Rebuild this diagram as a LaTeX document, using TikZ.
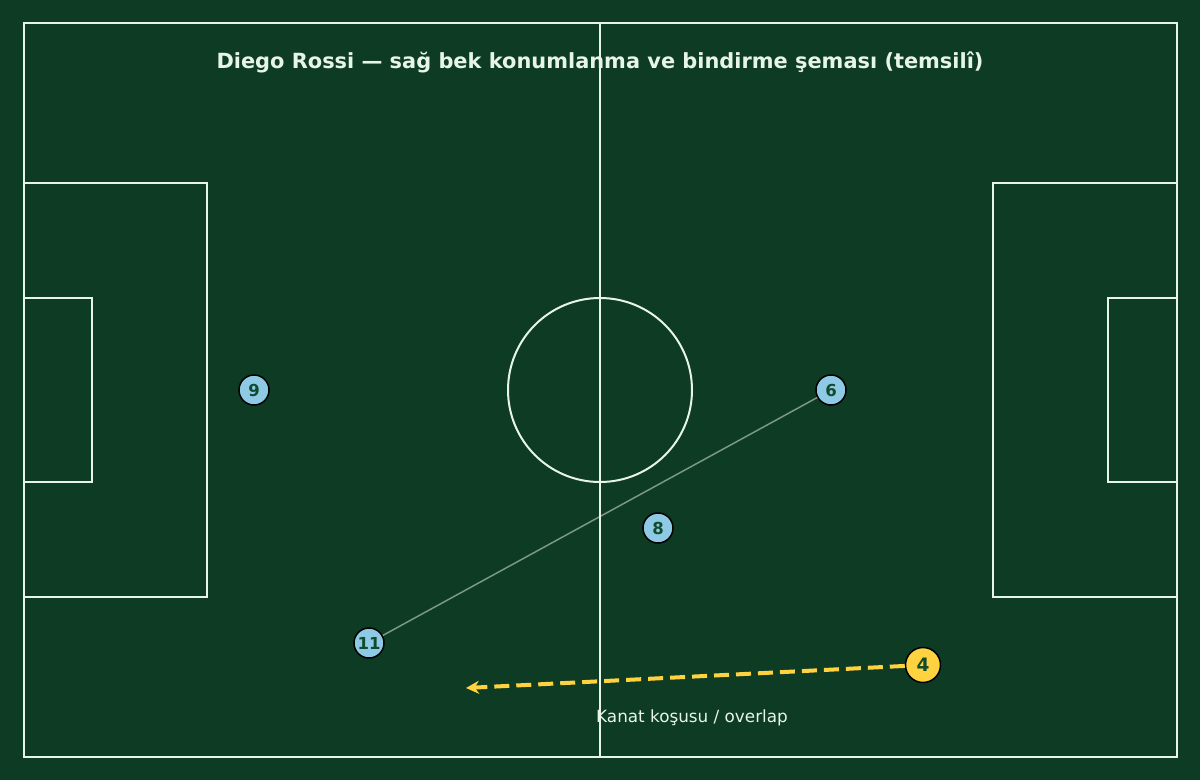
\documentclass[tikz,border=0pt]{standalone}
\usepackage{fontspec}
\setmainfont{DejaVu Sans}
\usetikzlibrary{arrows.meta}
\definecolor{pitch}{HTML}{0E3B24}
\definecolor{chalk}{HTML}{E6F4EA}
\definecolor{mate}{HTML}{8ECAE6}
\definecolor{star}{HTML}{FFD23F}
\definecolor{numc}{HTML}{124A2E}
\tikzset{
  fieldline/.style={draw=chalk, line width=2pt},
  mateplayer/.style={circle, draw=black, line width=1.5pt, fill=mate, minimum size=30pt, inner sep=0pt,
    font=\fontsize{16.5}{16.5}\selectfont\bfseries, text=numc},
  starplayer/.style={circle, draw=black, line width=1.5pt, fill=star, minimum size=35pt, inner sep=0pt,
    font=\fontsize{18.5}{18.5}\selectfont\bfseries, text=numc},
  passline/.style={draw=chalk, draw opacity=0.5, line width=1.5pt},
  runline/.style={draw=star, line width=4pt, dash pattern=on 15pt off 7pt, -{Stealth[length=13pt,width=13pt]}},
}
\begin{document}
\begin{tikzpicture}[x=1pt,y=-1pt]
\useasboundingbox (0,0) rectangle (1200,780);
\fill[pitch] (0,0) rectangle (1200,780);
% pitch markings
\draw[fieldline] (24,23) rectangle (1177,757);
\draw[fieldline] (600,23) -- (600,757);
\draw[fieldline] (600,390) circle[radius=92];
\draw[fieldline] (24,183) rectangle (207,597);
\draw[fieldline] (24,298) rectangle (92,482);
\draw[fieldline] (993,183) rectangle (1177,597);
\draw[fieldline] (1108,298) rectangle (1177,482);
% title
\node[text=chalk, font=\fontsize{20.9}{21}\selectfont\bfseries] (title) at (600,62) {Diego Rossi — sağ bek konumlanma ve bindirme şeması (temsilî)};
% players
\node[mateplayer] (p9) at (254,390) {9};
\node[mateplayer] (p6) at (831,390) {6};
\node[mateplayer] (p8) at (658,528) {8};
\node[mateplayer] (p11) at (369,643) {11};
\node[starplayer] (p4) at (923,665) {4};
% connectors
\draw[passline] (p11) -- (p6);
\coordinate (runend) at (466,688);
\draw[runline] (p4) -- (runend);
\node[text=chalk, font=\fontsize{16.8}{17}\selectfont] (runlabel) at (692,718) {Kanat koşusu / overlap};
\end{tikzpicture}
\end{document}
